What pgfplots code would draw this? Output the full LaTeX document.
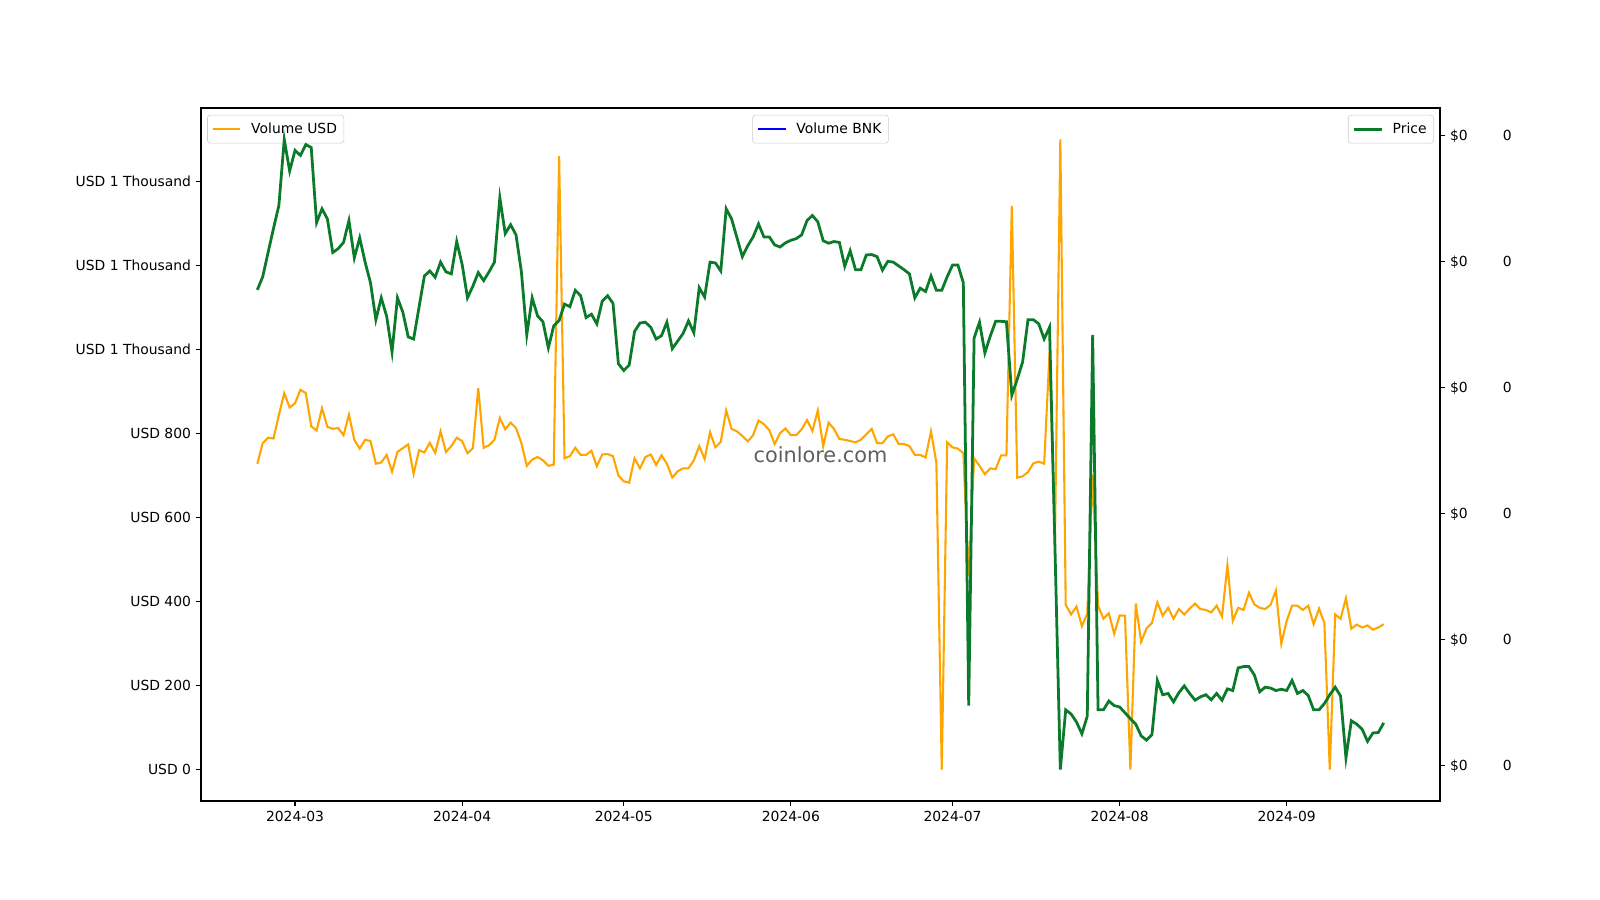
\documentclass[border=0pt]{standalone}
\usepackage{pgfplots}
\pgfplotsset{compat=1.18}
\usepackage{pgfplotstable}
\usepackage{fontspec}
\setmainfont{DejaVu Sans}
\definecolor{volorange}{HTML}{FFA500}
\definecolor{pricegreen}{HTML}{0B7A2A}
\definecolor{legframe}{HTML}{CCCCCC}
\definecolor{wm}{HTML}{5F5F5F}

\pgfplotstableread{
d vol price
-7 728 1142
-6 777 1173
-5 790 1231
-4 788 1288
-3 844 1343
-2 896 1500
-1 862 1425
0 872 1474
1 904 1462
2 896 1488
3 817 1481
4 807 1302
5 860 1335
6 816 1311
7 811 1231
8 813 1240
9 796 1255
10 845 1307
11 785 1218
12 764 1266
13 785 1208
14 782 1159
15 728 1071
16 731 1123
17 749 1079
18 709 994
19 756 1123
20 765 1089
21 774 1030
22 704 1025
23 760 1100
24 755 1175
25 778 1187
26 754 1172
27 805 1208
28 756 1185
29 770 1180
30 790 1257
31 782 1203
32 753 1123
33 765 1151
34 908 1183
35 766 1164
36 772 1185
37 785 1208
38 837 1361
39 810 1276
40 826 1297
41 813 1273
42 777 1185
43 723 1035
44 738 1123
45 744 1080
46 736 1066
47 723 1004
48 726 1056
49 1461 1069
50 741 1108
51 746 1102
52 766 1141
53 749 1128
54 749 1076
55 759 1084
56 722 1061
57 750 1115
58 751 1128
59 746 1110
60 700 966
61 686 950
62 683 963
63 741 1043
64 717 1063
65 744 1065
66 750 1053
67 725 1025
68 748 1033
69 728 1065
70 695 1002
71 710 1020
72 717 1038
73 717 1068
74 736 1040
75 770 1147
76 739 1125
77 803 1208
78 767 1206
79 780 1187
80 855 1335
81 811 1311
82 805 1266
83 794 1221
84 781 1247
85 796 1268
86 831 1299
87 822 1268
88 808 1268
89 775 1249
90 801 1244
91 812 1254
92 796 1260
93 796 1264
94 810 1273
95 832 1307
96 806 1319
97 855 1304
98 770 1259
99 826 1253
100 811 1257
101 787 1255
102 785 1198
103 782 1235
104 779 1190
105 785 1190
106 798 1225
107 811 1226
108 777 1221
109 777 1189
110 793 1210
111 798 1208
112 775 1199
113 775 1190
114 770 1180
115 749 1123
116 749 1146
117 743 1138
118 805 1175
119 731 1141
120 0 1141
121 779 1173
122 767 1201
123 764 1201
124 753 1159
125 462 152
126 741 1027
127 723 1065
128 703 992
129 717 1032
130 715 1067
131 748 1067
132 748 1066
133 1342 891
134 695 929
135 698 970
136 708 1071
137 729 1071
138 733 1061
139 728 1025
140 994 1053
141 540 530
142 1500 0
143 392 142
144 369 132
145 388 113
146 341 85
147 371 127
148 702 1035
149 390 142
150 359 142
151 372 163
152 323 152
153 367 149
154 366 135
155 0 121
156 395 108
157 304 80
158 336 70
159 349 83
160 398 212
161 366 178
162 385 181
163 359 161
164 382 183
165 369 199
166 383 181
167 395 165
168 382 173
169 380 178
170 374 166
171 390 181
172 364 165
173 486 192
174 354 188
175 385 242
176 380 245
177 421 245
178 393 225
179 385 185
180 382 196
181 392 194
182 426 188
183 299 191
184 354 188
185 390 212
186 390 181
187 380 188
188 390 176
189 346 142
190 383 142
191 349 157
192 0 178
193 369 196
194 359 175
195 408 28
196 335 116
197 345 108
198 338 96
199 343 67
200 333 87
201 338 88
202 346 111
}\datatable

\pgfplotsset{
  base/.style={
    at={(0pt,0pt)}, anchor=south west, scale only axis,
    width=892.08pt, height=498.96pt,
    xmin=-17.45, xmax=212.45, ymin=-75, ymax=1575,
    tick align=outside, major tick length=3.5pt,
    tick style={black, line width=0.8pt},
    axis line style={line width=0.8pt},
    every tick label/.append style={font=\fontsize{10}{12}\selectfont},
    legend cell align=left,
    legend style={draw=legframe, rounded corners=2pt, fill=white,
      fill opacity=0.8, text opacity=1, draw opacity=1,
      font=\fontsize{10}{12}\selectfont, inner xsep=3pt, inner ysep=3.5pt,
      /tikz/every odd column/.append style={column sep=5pt}},
    legend image code/.code={\draw[#1] (0pt,0pt) -- (20pt,0pt);},
  },
}

\begin{document}
\begin{tikzpicture}
\path[use as bounding box] (-144.72pt,-71.28pt) rectangle (1007.28pt,576.72pt);

\begin{axis}[base,
  xtick={0,31,61,92,122,153,184},
  xticklabels={2024-03,2024-04,2024-05,2024-06,2024-07,2024-08,2024-09},
  xtick pos=bottom, ytick pos=left,
  ytick={0,200,400,600,800,1000,1200,1400},
  yticklabels={USD 0,USD 200,USD 400,USD 600,USD 800,USD 1 Thousand,USD 1 Thousand,USD 1 Thousand},
  xticklabel style={inner sep=0pt, anchor=north, yshift=-3.5pt},
  yticklabel style={inner sep=0pt, anchor=east, xshift=-3.5pt, text height=7.3pt, text depth=0pt},
  legend style={at={(0.005,0.99)}, anchor=north west},
]
\addplot[volorange, line width=1.5pt] table[x=d, y=vol] {\datatable};
\addlegendentry{Volume USD}
\node[text=wm, font=\fontsize{15}{18}\selectfont] at (rel axis cs:0.5,0.5) {coinlore.com};
\end{axis}

\begin{axis}[base,
  axis x line=none, axis y line*=right,
  ytick={9,309,609,909,1209,1509},
  yticklabels={\$0,\$0,\$0,\$0,\$0,\$0},
  yticklabel style={inner sep=0pt, anchor=west, xshift=3.5pt, text height=7.3pt, text depth=0pt},
  legend style={at={(0.995,0.99)}, anchor=north east},
]
\addplot[pricegreen, line width=2pt] table[x=d, y=price] {\datatable};
\addlegendentry{Price}
\end{axis}

\begin{axis}[base,
  axis x line=none, axis y line*=right,
  y axis line style={draw=none}, major tick length=0pt,
  ytick={9,309,609,909,1209,1509},
  yticklabels={0,0,0,0,0,0},
  yticklabel style={inner sep=0pt, anchor=west, xshift=45pt, text height=7.3pt, text depth=0pt},
  legend style={at={(0.5,0.99)}, anchor=north},
]
\addlegendimage{blue, line width=1.5pt}
\addlegendentry{Volume BNK}
\end{axis}
\end{tikzpicture}
\end{document}
